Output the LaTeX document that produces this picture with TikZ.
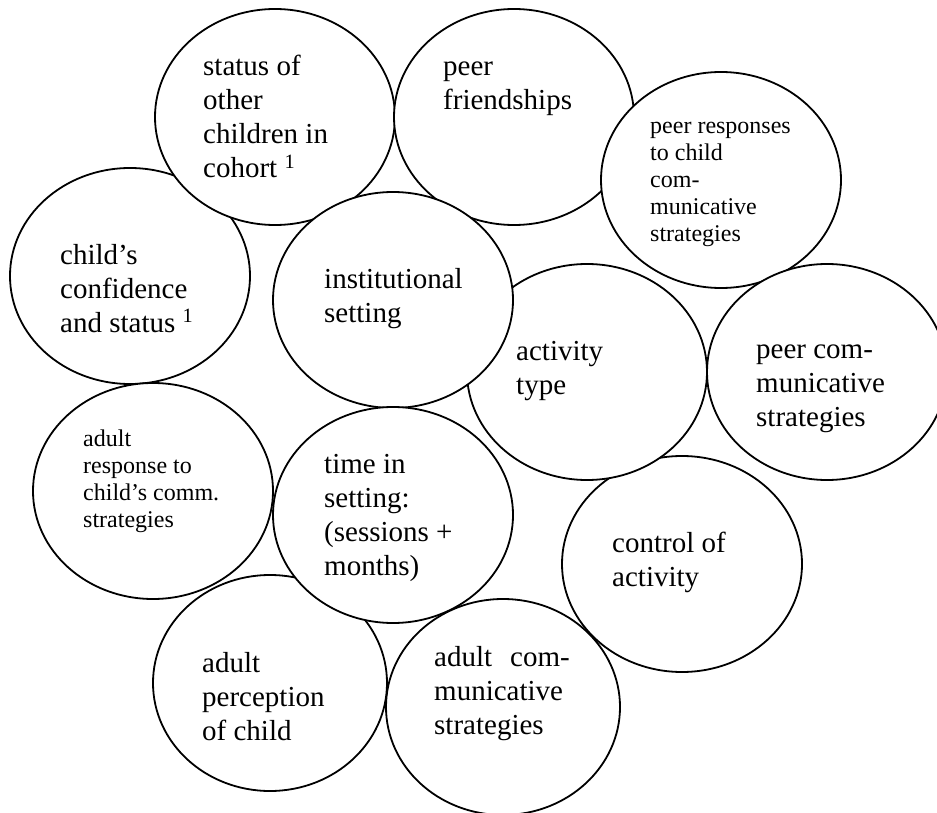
\documentclass[tikz,border=0pt]{standalone}
\usepackage{fontspec}
\setmainfont{Liberation Serif}
\usepackage{tikz}
\usetikzlibrary{shapes.geometric}
\tikzset{%
  % Specifications for style of nodes:
  oval/.style = {ellipse, draw=black, fill=white, line width=1.8pt,
    inner sep=0pt, minimum width=240pt, minimum height=216pt},
  ovalnarrow/.style = {oval, minimum width=234pt},
  bigtext/.style = {anchor=north west, inner sep=0pt, align=left,
    font=\fontsize{29}{34}\selectfont},
  smalltext/.style = {anchor=north west, inner sep=0pt, align=left,
    font=\fontsize{24}{27}\selectfont},
}
\begin{document}
\begin{tikzpicture}[x=1pt, y=-1pt]
        \useasboundingbox (0,0) rectangle (937,813);
        \clip (0,0) rectangle (937,813);
        % Specification of nodes (position, etc.)
        \node(Confidence)[oval] at (130,276){};
        \node(ConfidenceTxt)[bigtext] at (60,240){\strut child’s\\ confidence\\ and status \textsuperscript{1}};
        \node(Status)[oval] at (275,117){};
        \node(StatusTxt)[bigtext] at (203,52){\strut status of\\ other\\ children in\\ cohort \textsuperscript{1}};
        \node(Friends)[oval] at (514,117){};
        \node(FriendsTxt)[bigtext] at (443,52){\strut peer\\ friendships};
        \node(PeerResp)[oval] at (721,180){};
        \node(PeerRespTxt)[smalltext] at (650,114){\strut peer responses\\ to child\\ com-\\ municative\\ strategies};
        \node(Control)[oval] at (682,564){};
        \node(ControlTxt)[bigtext] at (612,528){\strut control of\\ activity};
        \node(Activity)[oval] at (587,372){};
        \node(ActivityTxt)[bigtext] at (516,336){\strut activity\\ type};
        \node(AdultComm)[ovalnarrow] at (503,707){};
        \node(AdultCommTxt)[bigtext] at (434,642){\strut adult\hspace{0.62em}com-\\ municative\\ strategies};
        \node(Setting)[oval] at (393,300){};
        \node(SettingTxt)[bigtext] at (324,264){\strut institutional\\ setting};
        \node(Perception)[ovalnarrow] at (270,683){};
        \node(PerceptionTxt)[bigtext] at (202,648){\strut adult\\ perception\\ of child};
        \node(Time)[oval] at (393,515){};
        \node(TimeTxt)[bigtext] at (324,449){\strut time in\\ setting:\\ (sessions +\\ months)};
        \node(AdultResp)[oval] at (153,491){};
        \node(AdultRespTxt)[smalltext] at (83,427){\strut adult\\ response to\\ child’s comm.\\ strategies};
        \node(PeerComm)[oval] at (827,372){};
        \node(PeerCommTxt)[bigtext] at (756,334){\strut peer com-\\ municative\\ strategies};
    \end{tikzpicture}
\end{document}
